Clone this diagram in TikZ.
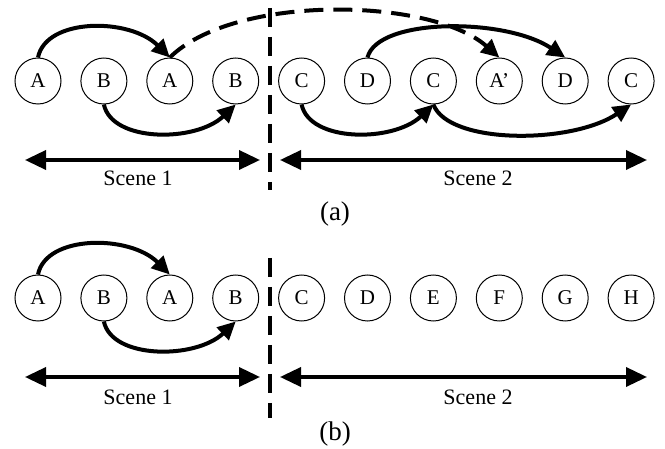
\documentclass[tikz,border=0pt]{standalone}
\usepackage{fontspec}
\setmainfont{Liberation Serif}
\usetikzlibrary{arrows.meta}
\begin{document}
\begin{tikzpicture}[x=1pt,y=-1pt,
  ball/.style={circle,draw,line width=1pt,minimum size=46pt,inner sep=0pt,font=\fontsize{21}{24}\selectfont},
  link/.style={line width=4pt,-{Triangle[length=18pt,width=17pt]}},
  dlink/.style={line width=4pt,dash pattern=on 19pt off 10pt,-{Triangle[length=18pt,width=17pt]}},
  span/.style={line width=3.6pt,{Triangle[length=21pt,width=19pt]}-{Triangle[length=21pt,width=19pt]}},
  divider/.style={line width=4pt,dash pattern=on 19pt off 10pt},
  lbl/.style={font=\fontsize{22}{24}\selectfont,inner sep=0pt},
  captext/.style={font=\fontsize{27}{30}\selectfont,inner sep=0pt}
]
\useasboundingbox (0,0) rectangle (665,449);
% ---------- (a) ----------
\foreach \n/\t [count=\i from 0] in {a1/A,a2/B,a3/A,a4/B,a5/C,a6/D,a7/C,a8/A’,a9/D,a10/C}
  \node[ball] (\n) at ({38+65.9*\i},81) {\t};
\draw[link] (a1.north) .. controls +(8,-40) and +(-40,-40) .. (a3.north);
\draw[link] (a2.south) .. controls +(8,38) and +(-40,38) .. (a4.south);
\draw[link] (a5.south) .. controls +(8,38) and +(-40,38) .. (a7.south);
\draw[link] (a7.south) .. controls +(15,40) and +(-60,40) .. (a10.south);
\draw[link] (a6.north) .. controls +(10,-40) and +(-60,-40) .. (a9.north);
\draw[dlink] (a3.north) .. controls +(65,-64) and +(-68,-60) .. (a8.north);
\coordinate (va1) at (270,8);
\coordinate (va2) at (270,190);
\draw[divider] (va1) -- (va2);
\coordinate (sa1) at (25,160);
\coordinate (sa2) at (260,160);
\coordinate (sa3) at (280,160);
\coordinate (sa4) at (647,160);
\draw[span] (sa1) -- (sa2);
\draw[span] (sa3) -- (sa4);
\node[lbl] (s1a) at (138,178) {Scene 1};
\node[lbl] (s2a) at (478,178) {Scene 2};
\node[captext] (capa) at (335,214) {(a)};
% ---------- (b) ----------
\foreach \n/\t [count=\i from 0] in {b1/A,b2/B,b3/A,b4/B,b5/C,b6/D,b7/E,b8/F,b9/G,b10/H}
  \node[ball] (\n) at ({38+65.9*\i},298) {\t};
\draw[link] (b1.north) .. controls +(8,-40) and +(-40,-40) .. (b3.north);
\draw[link] (b2.south) .. controls +(8,38) and +(-40,38) .. (b4.south);
\coordinate (vb1) at (270,258);
\coordinate (vb2) at (270,418);
\draw[divider] (vb1) -- (vb2);
\coordinate (sb1) at (25,377);
\coordinate (sb2) at (260,377);
\coordinate (sb3) at (280,377);
\coordinate (sb4) at (647,377);
\draw[span] (sb1) -- (sb2);
\draw[span] (sb3) -- (sb4);
\node[lbl] (s1b) at (138,397) {Scene 1};
\node[lbl] (s2b) at (478,397) {Scene 2};
\node[captext] (capb) at (335,434) {(b)};
\end{tikzpicture}
\end{document}
